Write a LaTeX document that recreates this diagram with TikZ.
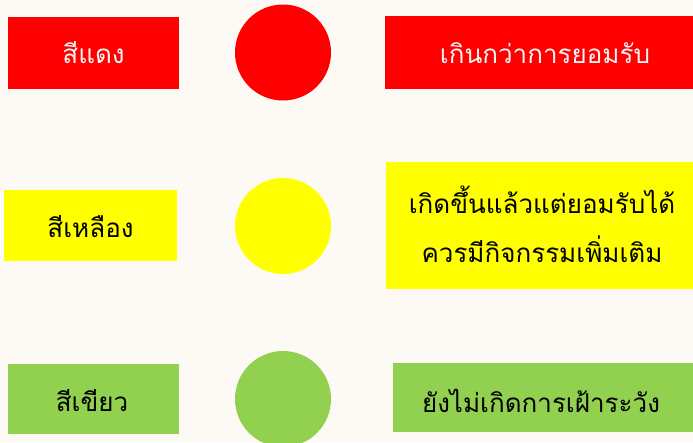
\documentclass[tikz,border=0pt]{standalone}
\usepackage{fontspec}
\newfontfamily\thaifont[Script=Thai]{Loma}
\definecolor{bg}{HTML}{FDF9F4}
\definecolor{rd}{HTML}{FF0000}
\definecolor{yl}{HTML}{FFFF00}
\definecolor{gr}{HTML}{92D050}
\definecolor{wt}{HTML}{F4F4F4}
\tikzset{
  lbl/.style={inner sep=0pt, font=\thaifont\fontsize{26}{30}\selectfont, align=center},
  lamp/.style={circle, minimum size=96pt, inner sep=0pt}
}
\begin{document}
\begin{tikzpicture}[x=1pt,y=-1pt]
\fill[bg] (0,0) rectangle (693,442);
\useasboundingbox (0,0) rectangle (693,442);
% red row
\fill[rd] (8,17) rectangle (179,89);
\node[lamp, fill=rd] (c1) at (283,52.5) {};
\fill[rd] (385,16) rectangle (700,89);
\node[lbl, text=wt] (l1) at (93.5,53) {สีแดง};
\node[lbl, text=wt] (r1) at (545,53) {เกินกว่าการยอมรับ};
% yellow row
\fill[yl] (4,190) rectangle (177,261);
\node[lamp, fill=yl] (c2) at (283,226) {};
\fill[yl] (386,162) rectangle (700,289);
\node[lbl, text=black] (l2) at (90.5,227) {สีเหลือง};
\node[lbl, text=black, font=\thaifont\fontsize{26}{49}\selectfont] (r2) at (542,224) {เกิดขึ้นแล้วแต่ยอมรับได้\\ควรมีกิจกรรมเพิ่มเติม};
% green row
\fill[gr] (8,364) rectangle (179,434);
\node[lamp, fill=gr] (c3) at (283,399) {};
\fill[gr] (393,363) rectangle (700,432);
\node[lbl, text=black] (l3) at (92,401) {สีเขียว};
\node[lbl, text=black] (r3) at (541,401) {ยังไม่เกิดการเฝ้าระวัง};
\end{tikzpicture}
\end{document}
